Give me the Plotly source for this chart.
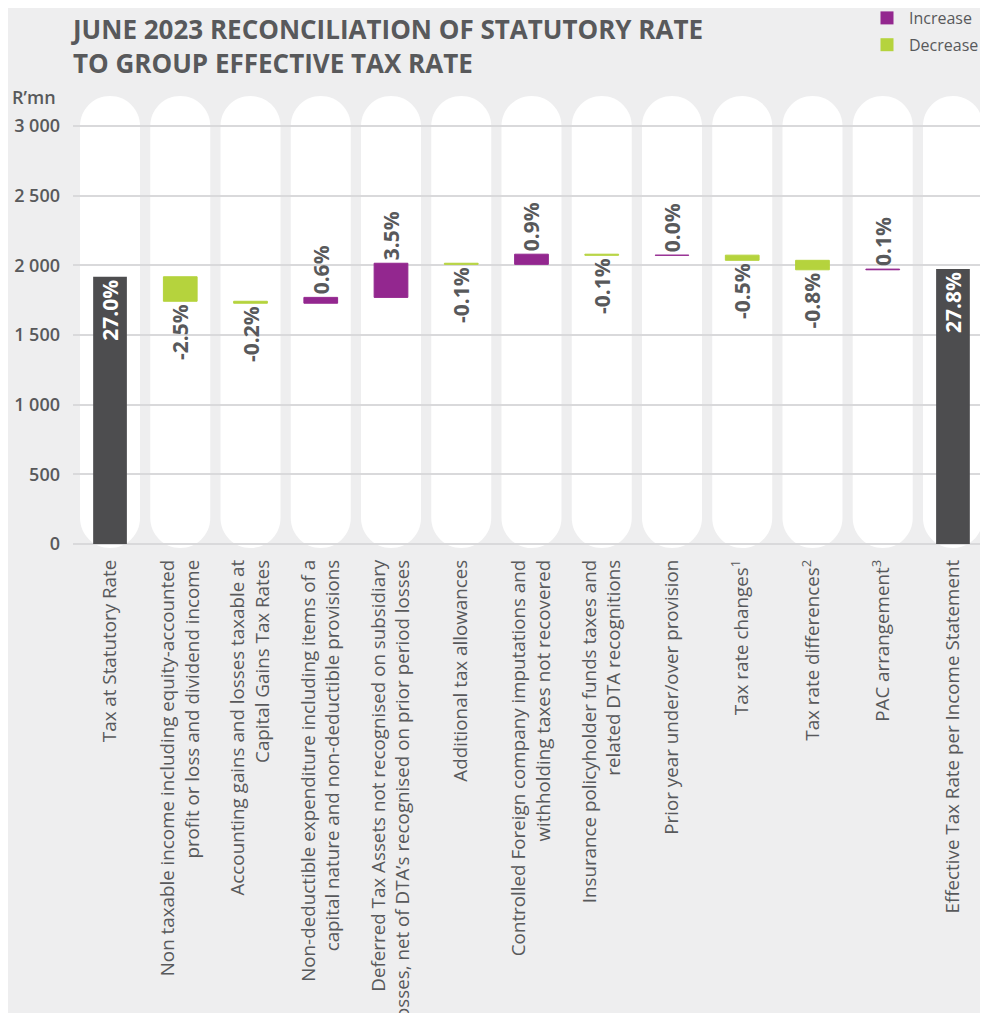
import plotly.graph_objects as go

categories = [
    "Tax at Statutory Rate",
    "Non taxable income including equity-accounted<br>profit or loss and dividend income",
    "Accounting gains and losses taxable at<br>Capital Gains Tax Rates",
    "Non-deductible expenditure including items of a<br>capital nature and non-deductible provisions",
    "Deferred Tax Assets not recognised on subsidiary<br>losses, net of DTA’s recognised on prior period losses",
    "Additional tax allowances",
    "Controlled Foreign company imputations and<br>withholding taxes not recovered",
    "Insurance policyholder funds taxes and<br>related DTA recognitions",
    "Prior year under/over provision",
    "Tax rate changes<sup>1</sup>",
    "Tax rate differences<sup>2</sup>",
    "PAC arrangement<sup>3</sup>",
    "Effective Tax Rate per Income Statement",
]
# R'mn amounts (first absolute, then movements, last = total)
amounts = [1918, -176, -14, 42, 245, -8, 73, -8, 1, -37, -68, 5, 0]
measures = ["absolute"] + ["relative"] * 11 + ["total"]
pct_labels = ["27.0%", "-2.5%", "-0.2%", "0.6%", "3.5%", "-0.1%", "0.9%",
              "-0.1%", "0.0%", "-0.5%", "-0.8%", "0.1%", "27.8%"]
y_ticks = [0, 500, 1000, 1500, 2000, 2500, 3000]
y_tick_text = ["0", "500", "1 000", "1 500", "2 000", "2 500", "3 000"]

PURPLE = "#93278F"
GREEN = "#B5D33D"
DARK = "#4D4D4F"
TEXT = "#58595B"
BG = "#EEEEEF"
FONT = "Open Sans"

W, H = 980, 1005
L, T, R, B = 65, 82, 977, 544          # plot area in figure pixels
PW, PH = R - L, B - T

x_idx = list(range(len(categories)))
text_pos = ["inside" if m != "relative" else "outside" for m in measures]

fig = go.Figure()
fig.add_trace(go.Waterfall(
    x=x_idx, y=amounts, measure=measures,
    text=pct_labels, textposition=text_pos, textangle=-90,
    insidetextanchor="end", constraintext="none",
    insidetextfont=dict(family=FONT, size=21, color="white", weight="bold"),
    outsidetextfont=dict(family=FONT, size=21, color=TEXT, weight="bold"),
    increasing=dict(marker=dict(color=PURPLE, line=dict(color=PURPLE, width=1))),
    decreasing=dict(marker=dict(color=GREEN, line=dict(color=GREEN, width=1))),
    totals=dict(marker=dict(color=DARK, line=dict(color=DARK, width=0))),
    connector=dict(visible=False),
    width=0.48, cliponaxis=False, showlegend=False, hoverinfo="skip",
))
for name, col in [("Increase", PURPLE), ("Decrease", GREEN)]:
    fig.add_trace(go.Scatter(x=[None], y=[None], mode="markers", name=name,
                             legendgroup=name,
                             marker=dict(symbol="square", size=13, color=col)))

# white rounded columns behind each category (pixel-sized pills)
r = 30
top = 448
bot = -4
k = 0.5523 * r
pill = (f"M {-r},{bot + r} L {-r},{top - r} "
        f"C {-r},{top - r + k} {-k},{top} 0,{top} "
        f"C {k},{top} {r},{top - r + k} {r},{top - r} "
        f"L {r},{bot + r} "
        f"C {r},{bot + r - k} {k},{bot} 0,{bot} "
        f"C {-k},{bot} {-r},{bot + r - k} {-r},{bot + r} Z")
shapes = []
for i in x_idx:
    shapes.append(dict(type="path", xref="x", yref="y", xsizemode="pixel",
                       ysizemode="pixel", xanchor=i, yanchor=0, path=pill,
                       fillcolor="white", line=dict(width=0), layer="below"))

s = 418 / 3000.0
zero_px = 536
fig.update_layout(
    width=W, height=H,
    margin=dict(l=L, r=W - R, t=T, b=H - B, autoexpand=False),
    paper_bgcolor=BG, plot_bgcolor=BG,
    shapes=shapes,
    font=dict(family=FONT, color=TEXT),
    legend=dict(x=(857 - L) / PW, xanchor="left", xref="paper",
                y=(B + 7) / PH, yanchor="top", yref="paper",
                font=dict(family=FONT, size=16, color=TEXT), itemwidth=34,
                bgcolor="rgba(0,0,0,0)", itemclick=False, tracegroupgap=3),
    xaxis=dict(range=[-0.527, 12.456], tickvals=x_idx, ticktext=categories,
               tickangle=-90, showgrid=False, zeroline=False, showline=False,
               ticks="", automargin=False, fixedrange=True, ticklabelstandoff=3,
               tickfont=dict(family=FONT, size=18.8, color=TEXT)),
    yaxis=dict(range=[-(B - zero_px) / s, (zero_px - T) / s], tickvals=y_ticks,
               ticktext=y_tick_text, showgrid=True, gridcolor="#D9D9DB",
               gridwidth=1.5, zeroline=False, showline=False, ticks="",
               automargin=False, fixedrange=True, ticklabelstandoff=12,
               tickfont=dict(family=FONT, size=18, color=TEXT, weight=600)),
    annotations=[
        dict(text="JUNE 2023 RECONCILIATION OF STATUTORY RATE<br>TO GROUP EFFECTIVE TAX RATE",
             x=(61 - L) / PW, xref="paper", xanchor="left",
             y=(B - 1) / PH, yref="paper", yanchor="top", align="left",
             showarrow=False,
             font=dict(family=FONT, size=26, color=TEXT, weight="bold")),
        dict(text="R’mn", x=(50 - L) / PW, xref="paper", xanchor="right",
             y=(B - 89) / PH, yref="paper", yanchor="middle",
             showarrow=False,
             font=dict(family=FONT, size=18, color=TEXT, weight=600)),
    ],
)

fig.write_html("out.html")
